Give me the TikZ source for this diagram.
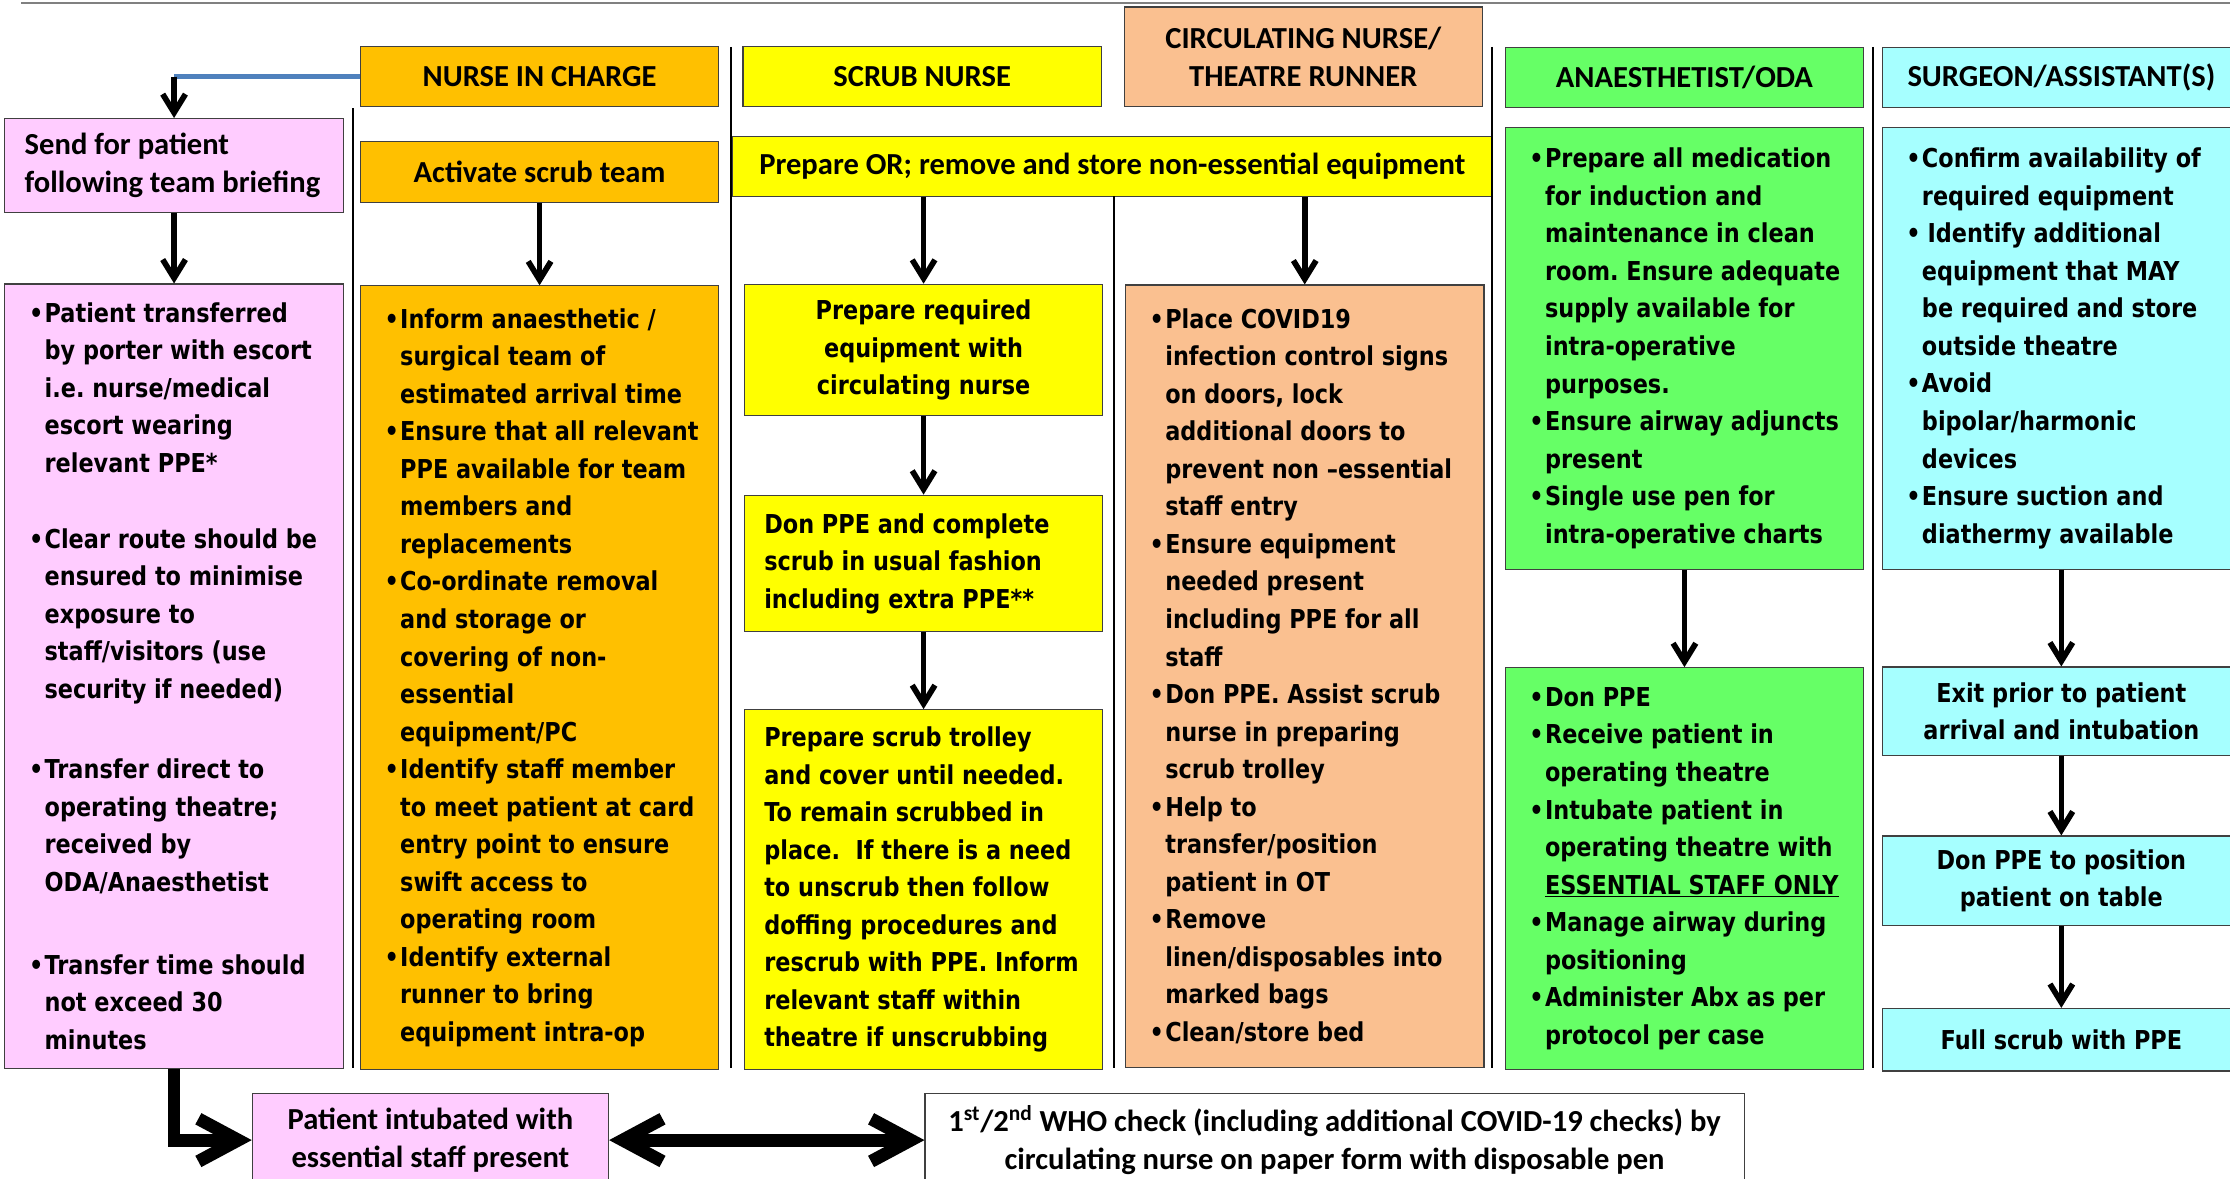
\documentclass[tikz,border=0pt]{standalone}
\usepackage{fontspec}
\usepackage{tikz}
\usetikzlibrary{arrows.meta,positioning}

\newfontfamily\tahoma[FakeStretch=0.86]{DejaVu Sans}
\newfontfamily\calibri{Carlito}
\newcommand{\bodyfont}{\tahoma\bfseries\fontsize{18.3}{26.4}\selectfont}
\newcommand{\headfont}{\calibri\bfseries\fontsize{21.5}{26.4}\selectfont}
\newcommand{\norag}{\let\\\newline\hyphenpenalty=10000\rightskip=-40pt plus 1fil\relax}
\newcommand{\fb}{\norag\noindent\hangindent=11pt\hangafter=1\makebox[11pt][l]{\textbullet}}
\newcommand{\bul}{\par\fb}
\frenchspacing

\definecolor{pinkfill}{HTML}{FFCCFF}
\definecolor{orangefill}{HTML}{FFC000}
\definecolor{yellowfill}{HTML}{FFFF00}
\definecolor{peachfill}{HTML}{FAC090}
\definecolor{greenfill}{HTML}{66FF66}
\definecolor{cyanfill}{HTML}{A6FFFF}
\definecolor{briefblue}{HTML}{4F81BD}
\definecolor{boxline}{HTML}{404040}

\begin{document}
\begin{tikzpicture}[
        x=1pt, y=-1pt,
        box/.style={draw=boxline, line width=0.8pt, inner sep=4pt, inner ysep=0pt, minimum width=252pt},
        head/.style={box, font=\headfont, align=flush center, text width=244pt, minimum height=42pt},
        bullets/.style={box, font=\bodyfont, align=flush left, inner xsep=17pt, text width=218pt},
        plain/.style={box, font=\bodyfont, align=flush left, inner xsep=14pt, text width=224pt},
        middle/.style={box, font=\bodyfont, align=flush center, text width=244pt},
        flow/.style={-{Straight Barb[length=13pt,width=16pt]}, line width=4pt},
        bigflow/.style={-{Straight Barb[length=28pt,width=30pt]}, line width=9pt},
        bigboth/.style={{Straight Barb[length=28pt,width=30pt]}-{Straight Barb[length=28pt,width=30pt]}, line width=9pt},
        lane/.style={line width=1.2pt}
    ]
    \useasboundingbox (0,0) rectangle (1568,829);
    \clip (0,0) rectangle (1568,829);

    \draw[gray, line width=1.2pt] (15,2) -- (1568,2);

    % Nodes
    \node (nic)[head, fill=orangefill, anchor=north west] at (253,32.5) {NURSE IN CHARGE};
    \node (scrubh)[head, fill=yellowfill, anchor=north west] at (522,32.5) {SCRUB NURSE};
    \node (circh)[head, fill=peachfill, anchor=north west, minimum height=70pt] at (790,4.5) {CIRCULATING NURSE/\\THEATRE RUNNER};
    \node (anah)[head, fill=greenfill, anchor=north west] at (1058,33) {ANAESTHETIST/ODA};
    \node (surgh)[head, fill=cyanfill, anchor=north west] at (1323,33) {SURGEON/ASSISTANT(S)};

    \node (send)[box, font=\headfont, align=flush left, fill=pinkfill, minimum width=238pt, minimum height=66pt,
        inner xsep=14pt, text width=210pt, anchor=north west] at (3,83) {\norag Send for patient\\following team briefing};
    \node (patbody)[bullets, fill=pinkfill, minimum width=238pt, text width=204pt, minimum height=551.5pt, below=49.5pt of send]
        {\fb Patient transferred\\by porter with escort\\i.e. nurse/medical\\escort wearing\\relevant PPE*\par\vspace{27pt}
         \fb Clear route should be\\ensured to minimise\\exposure to\\staff/visitors (use\\security if needed)\par\vspace{30pt}
         \fb Transfer direct to\\operating theatre;\\received by\\ODA/Anaesthetist\par\vspace{32pt}
         \fb Transfer time should\\not exceed 30\\minutes\par};

    \node (activate)[head, fill=orangefill, minimum height=42.5pt, below=24pt of nic] {Activate scrub team};
    \node (nicbody)[bullets, fill=orangefill, minimum height=551pt, below=58pt of activate]
        {\fb Inform anaesthetic /\\surgical team of\\estimated arrival time
         \bul Ensure that all relevant\\PPE available for team\\members and\\replacements
         \bul Co-ordinate removal\\and storage or\\covering of non-\\essential\\equipment/PC
         \bul Identify staff member\\to meet patient at card\\entry point to ensure\\swift access to\\operating room
         \bul Identify external\\runner to bring\\equipment intra-op\par};

    \node (prepor)[head, fill=yellowfill, minimum width=534.5pt, text width=526pt, anchor=north west] at (514.5,95.6)
        {Prepare OR; remove and store non-essential equipment};
    \node (reqeq)[middle, fill=yellowfill, minimum height=92.5pt, anchor=north west] at (523,199.5)
        {Prepare required\\equipment with\\circulating nurse};
    \node (donppe)[plain, fill=yellowfill, minimum height=96pt, below=55pt of reqeq]
        {\norag Don PPE and complete\\scrub in usual fashion\\including extra PPE**};
    \node (trolley)[plain, fill=yellowfill, minimum height=253pt, below=54pt of donppe]
        {\norag Prepare scrub trolley\\and cover until needed.\\To remain scrubbed in\\place.\ \ If there is a need\\to unscrub then follow\\doffing procedures and\\rescrub with PPE. Inform\\relevant staff within\\theatre if unscrubbing};

    \node (circbody)[bullets, fill=peachfill, minimum height=550pt, anchor=north west] at (791,200)
        {\fb Place COVID19\\infection control signs\\on doors, lock\\additional doors to\\prevent non –essential\\staff entry
         \bul Ensure equipment\\needed present\\including PPE for all\\staff
         \bul Don PPE. Assist scrub\\nurse in preparing\\scrub trolley
         \bul Help to\\transfer/position\\patient in OT
         \bul Remove\\linen/disposables into\\marked bags
         \bul Clean/store bed\par};

    \node (anabody)[bullets, fill=greenfill, minimum height=310.5pt, below=13.5pt of anah]
        {\fb Prepare all medication\\for induction and\\maintenance in clean\\room. Ensure adequate\\supply available for\\intra-operative\\purposes.
         \bul Ensure airway adjuncts\\present
         \bul Single use pen for\\intra-operative charts\par};
    \node (intubate)[bullets, fill=greenfill, minimum height=282.5pt, below=68.5pt of anabody]
        {\fb Don PPE
         \bul Receive patient in\\operating theatre
         \bul Intubate patient in\\operating theatre with\\\underline{ESSENTIAL STAFF ONLY}
         \bul Manage airway during\\positioning
         \bul Administer Abx as per\\protocol per case\par};

    \node (surgbody)[bullets, fill=cyanfill, minimum height=310.5pt, below=13.5pt of surgh]
        {\fb Confirm availability of\\required equipment
         \bul \hspace{4pt}Identify additional\\equipment that MAY\\be required and store\\outside theatre
         \bul Avoid\\bipolar/harmonic\\devices
         \bul Ensure suction and\\diathermy available\par};
    \node (exit)[middle, fill=cyanfill, minimum height=62.5pt, below=68pt of surgbody] {Exit prior to patient\\arrival and intubation};
    \node (donpos)[middle, fill=cyanfill, minimum height=63pt, below=55.5pt of exit] {Don PPE to position\\patient on table};
    \node (fullscrub)[middle, fill=cyanfill, minimum height=44pt, below=57.5pt of donpos] {Full scrub with PPE};

    \node (intubated)[box, font=\headfont, align=flush center, fill=pinkfill, minimum width=250.5pt, text width=240pt,
        minimum height=65.5pt, anchor=north west] at (177,768.5) {Patient intubated with\\essential staff present};
    \node (whocheck)[box, font=\headfont, align=flush center, fill=white, minimum width=576pt, text width=566pt,
        minimum height=65.5pt, anchor=north west] at (650,768.5)
        {1\textsuperscript{st}/2\textsuperscript{nd} WHO check (including additional COVID-19 checks) by\\circulating nurse on paper form with disposable pen};

    % Lanes
    \draw[lane] (248,76) -- (248,751);
    \draw[lane] (514,33) -- (514,751);
    \draw[lane] (783.5,138) -- (783.5,751);
    \draw[lane] (1049,33) -- (1049,751);
    \draw[lane] (1317,33) -- (1317,751);

    % Edges
    \coordinate (brief) at (nic.west -| send.north);
    \draw[briefblue, line width=3.5pt] (nic.west) -- (brief);
    \draw[flow] (brief) -- (send);
    \draw[flow] (send) -- (patbody);
    \draw[flow] (activate) -- (nicbody);
    \draw[flow] (prepor.south -| reqeq.north) -- (reqeq);
    \draw[flow] (prepor.south -| circbody.north) -- (circbody);
    \draw[flow] (reqeq) -- (donppe);
    \draw[flow] (donppe) -- (trolley);
    \draw[flow] (anabody) -- (intubate);
    \draw[flow] (surgbody) -- (exit);
    \draw[flow] (exit) -- (donpos);
    \draw[flow] (donpos) -- (fullscrub);
    \draw[bigflow] (patbody.south) |- (intubated.west);
    \draw[bigboth] (intubated.east) -- (whocheck.west);

    \end{tikzpicture}
\end{document}
